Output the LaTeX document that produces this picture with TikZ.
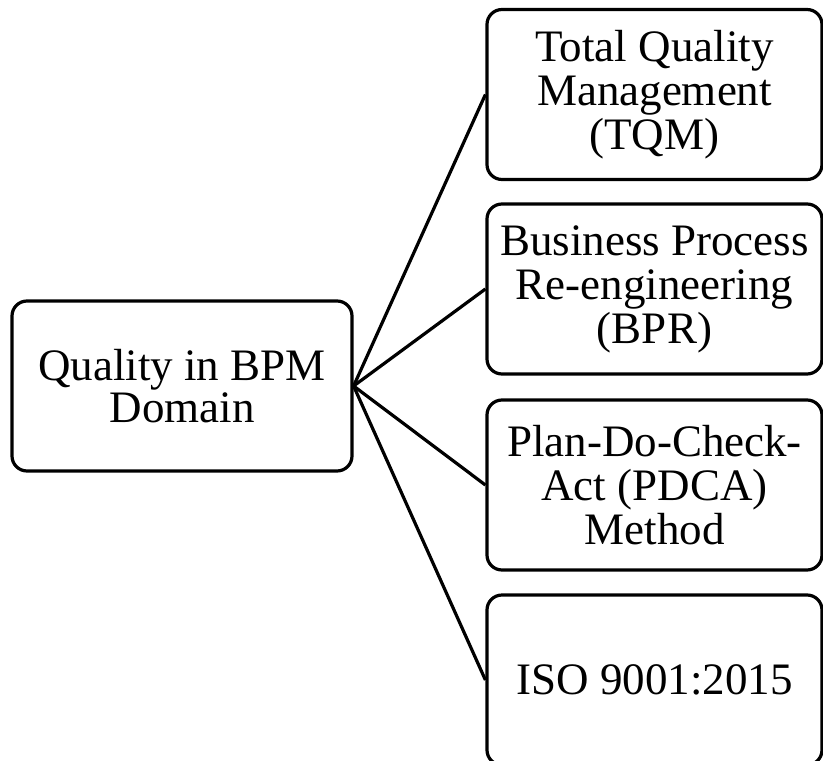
\documentclass[tikz,border=0pt]{standalone}
\usepackage{fontspec}
\setmainfont{Liberation Serif}
\begin{document}
\begin{tikzpicture}[x=1pt,y=-1pt,
  box/.style={draw=black, line width=3.2pt, rounded corners=15pt, fill=white,
    minimum width=335pt, minimum height=170pt, inner sep=0pt, align=center,
    font=\fontsize{45}{44}\selectfont},
  link/.style={draw=black, line width=3.2pt}]
\useasboundingbox (0,0) rectangle (823,761);
\node[box, minimum width=340pt, font=\fontsize{45}{42}\selectfont] (root) at (182,386) {Quality in BPM\\Domain};
\node[box] (tqm) at (654.5,94.5) {Total Quality\\Management\\(TQM)};
\node[box] (bpr) at (654.5,289) {Business Process\\Re-engineering\\(BPR)};
\node[box] (pdca) at (654.5,485) {Plan-Do-Check-\\Act (PDCA)\\Method};
\node[box] (iso) at (654.5,680) {ISO 9001:2015};
\draw[link] (root.east) -- (tqm.west);
\draw[link] (root.east) -- (bpr.west);
\draw[link] (root.east) -- (pdca.west);
\draw[link] (root.east) -- (iso.west);
\end{tikzpicture}
\end{document}
